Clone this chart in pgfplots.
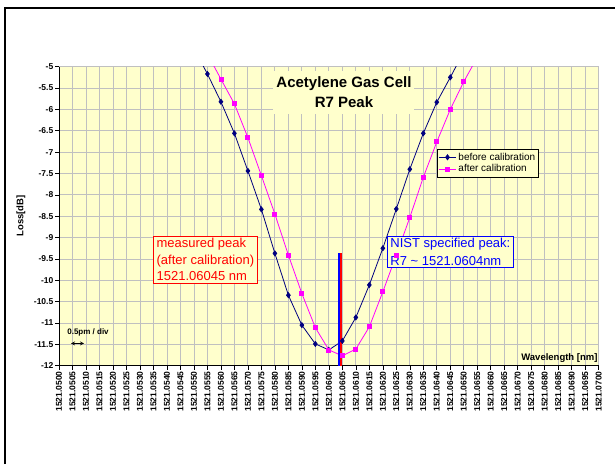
\documentclass[border=0pt]{standalone}
\usepackage{fontspec}
\setmainfont{Liberation Sans}
\usepackage{pgfplots}
\pgfplotsset{compat=1.18}
\definecolor{plotbg}{HTML}{FFFFCC}
\definecolor{gridc}{HTML}{C0C0C0}
\definecolor{navyc}{HTML}{000080}
\definecolor{magc}{HTML}{FF00FF}
\begin{document}
\begin{tikzpicture}
\path[use as bounding box] (0pt,0pt) rectangle (615pt,464pt);
\draw[line width=2pt] (5pt,0pt) -- (5pt,456pt) -- (616pt,456pt);
\begin{axis}[
  at={(59pt,98.3pt)}, anchor=south west, scale only axis,
  width=539.7pt, height=299pt,
  xmin=0, xmax=20, ymin=-12, ymax=-5,
  axis background/.style={fill=plotbg},
  axis x line*=bottom, axis y line*=left,
  axis line style={black,-,line width=0.8pt},
  grid=major, major grid style={gridc,line width=0.8pt},
  tick align=outside, major tick length=4pt,
  tick style={black,line width=0.6pt},
  xtick={0,0.5,...,20},
  xticklabels={1521.0500,1521.0505,1521.0510,1521.0515,1521.0520,1521.0525,1521.0530,1521.0535,1521.0540,1521.0545,1521.0550,1521.0555,1521.0560,1521.0565,1521.0570,1521.0575,1521.0580,1521.0585,1521.0590,1521.0595,1521.0600,1521.0605,1521.0610,1521.0615,1521.0620,1521.0625,1521.0630,1521.0635,1521.0640,1521.0645,1521.0650,1521.0655,1521.0660,1521.0665,1521.0670,1521.0675,1521.0680,1521.0685,1521.0690,1521.0695,1521.0700},
  xticklabel style={rotate=90, anchor=east, font=\fontsize{8.5}{10}\selectfont\bfseries, inner sep=1.5pt},
  ytick={-12,-11.5,-11,-10.5,-10,-9.5,-9,-8.5,-8,-7.5,-7,-6.5,-6,-5.5,-5},
  yticklabels={-12,-11.5,-11,-10.5,-10,-9.5,-9,-8.5,-8,-7.5,-7,-6.5,-6,-5.5,-5},
  yticklabel style={font=\fontsize{8.5}{10}\selectfont\bfseries, inner sep=1.5pt},
  legend style={at={(0.6998,0.7247)}, anchor=north west, draw=black, fill=plotbg,
    font=\fontsize{10}{11}\selectfont, inner sep=1.5pt, row sep=-1pt, line width=0.8pt},
  legend cell align=left,
]
\addplot[navyc, line width=0.8pt, mark=diamond*, mark size=2.5pt, mark options={fill=navyc}]
 table {
x y
5.0 -4.57
5.5 -5.17
6.0 -5.82
6.5 -6.56
7.0 -7.44
7.5 -8.34
8.0 -9.37
8.5 -10.35
9.0 -11.05
9.5 -11.49
10.0 -11.63
10.5 -11.42
11.0 -10.87
11.5 -10.11
12.0 -9.25
12.5 -8.33
13.0 -7.40
13.5 -6.56
14.0 -5.83
14.5 -5.25
15.0 -4.65
};
\addlegendentry{before calibration}
\addplot[magc, line width=0.8pt, mark=square*, mark size=2pt, mark options={fill=magc}]
 table {
x y
5.5 -4.70
6.0 -5.29
6.5 -5.87
7.0 -6.66
7.5 -7.55
8.0 -8.45
8.5 -9.41
9.0 -10.31
9.5 -11.11
10.0 -11.63
10.5 -11.77
11.0 -11.61
11.5 -11.09
12.0 -10.27
12.5 -9.41
13.0 -8.53
13.5 -7.59
14.0 -6.76
14.5 -6.00
15.0 -5.35
15.5 -4.78
};
\addlegendentry{after calibration}
\addplot[blue, line width=1.8pt, forget plot] coordinates {(10.38,-9.37) (10.38,-12)};
\addplot[red, line width=1.8pt, forget plot] coordinates {(10.447,-9.37) (10.447,-12)};
\node[fill=plotbg, align=center, inner xsep=3pt, inner ysep=6pt, font=\fontsize{15}{19.5}\selectfont\bfseries]
  at (axis cs:10.56,-5.60) {Acetylene Gas Cell\\R7 Peak};
\node[draw=red, fill=plotbg, text=red, align=left, anchor=north west, inner xsep=3.5pt, inner ysep=2pt, line width=0.8pt,
  font=\fontsize{13}{16.5}\selectfont] at (axis cs:3.472,-8.964) {measured peak\\(after calibration)\\1521.06045 nm};
\node[draw=blue, fill=plotbg, text=blue, align=left, anchor=north west, inner xsep=3pt, inner ysep=2pt, line width=0.8pt,
  font=\fontsize{13}{17.5}\selectfont] at (axis cs:12.155,-8.964) {NIST specified peak:\\R7 \textasciitilde{} 1521.0604nm};
\node[font=\fontsize{8}{9}\selectfont\bfseries] at (axis cs:1.075,-11.212) {0.5pm / div};
\draw[<->, >=stealth, line width=0.8pt] (axis cs:0.445,-11.478) -- (axis cs:0.927,-11.478);
\node[anchor=east, inner sep=1pt, font=\fontsize{9.5}{11}\selectfont\bfseries] at (axis cs:20,-11.82) {Wavelength [nm]};
\end{axis}
\node[rotate=90, font=\fontsize{9.5}{11}\selectfont\bfseries] at (21pt,248pt) {Loss[dB]};
\end{tikzpicture}
\end{document}
